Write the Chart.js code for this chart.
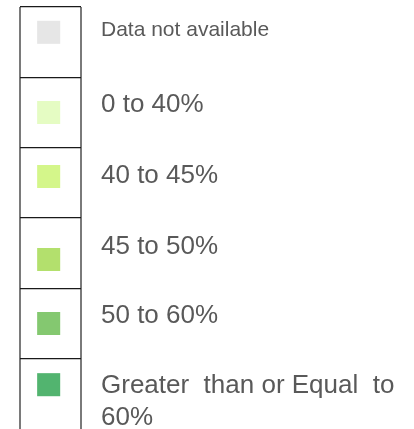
<!DOCTYPE html>
<html>
<head>
<meta charset="utf-8">
<script src="https://cdn.jsdelivr.net/npm/chart.js@4"></script>
<style>
    html, body { margin: 0; padding: 0; background: #fff; }
    #wrap { position: relative; width: 414px; height: 429px; }
</style>
</head>
<body>
<div id="wrap"><canvas id="legendChart"></canvas></div>
<script>
// --- Datos de la leyenda ---
const levels = [
    'Data not available',
    '0 to 40%',
    '40 to 45%',
    '45 to 50%',
    '50 to 60%',
    ['Greater  than or Equal  to', '60%']
];
const swatchColors = ['#e6e6e6', '#e5fcc3', '#d4f68a', '#b3e06d', '#84c870', '#52b46f'];
// posición vertical de cada muestra y texto, en unidades de fila
const swatchRow = [0.36, 1.50, 2.41, 3.59, 4.50, 5.37];
const labelRow = [0.33, 1.39, 2.40, 3.41, 4.39, 5.39];
const rowTicks = [0, 1, 2, 3, 4, 5, 6];

// --- Plugin para dibujar los textos a la derecha de la caja ---
const labelPlugin = {
    id: 'legendLabels',
    afterDraw(chart) {
        const ctx = chart.ctx;
        const y = chart.scales.y;
        const x0 = chart.chartArea.right + 20;
        ctx.save();
        ctx.fillStyle = '#595959';
        ctx.textAlign = 'left';
        ctx.textBaseline = 'middle';
        levels.forEach((label, i) => {
            const size = i === 0 ? 21 : 26;
            ctx.font = size + 'px "Liberation Sans", Arial, sans-serif';
            const lines = Array.isArray(label) ? label : [label];
            const yc = y.getPixelForValue(labelRow[i]);
            lines.forEach((line, j) => ctx.fillText(line, x0, yc + j * 32));
        });
        ctx.restore();
    }
};

new Chart(document.getElementById('legendChart'), {
    type: 'scatter',
    data: {
        datasets: [{
            data: swatchRow.map(r => ({ x: 0.47, y: r })),
            backgroundColor: swatchColors,
            pointStyle: 'rect',
            pointRadius: 16.3,
            pointHoverRadius: 16.3,
            borderWidth: 0
        }]
    },
    options: {
        responsive: true,
        maintainAspectRatio: false,
        animation: false,
        events: [],
        layout: { autoPadding: false, padding: { left: 20, right: 333, top: 7, bottom: 0 } },
        plugins: { legend: { display: false }, tooltip: { enabled: false } },
        scales: {
            x: {
                type: 'linear', min: 0, max: 1,
                ticks: { display: false, stepSize: 1 },
                grid: { color: '#7a7a7a', lineWidth: 2, drawTicks: false },
                border: { display: false },
                afterFit: s => { s.height = 0; }
            },
            y: {
                type: 'linear', reverse: true, min: 0, max: 6,
                afterBuildTicks: s => { s.ticks = rowTicks.map(v => ({ value: v })); },
                ticks: { display: false },
                grid: {
                    color: c => c.tick && c.tick.value === 6 ? 'rgba(0,0,0,0)' : '#1a1a1a',
                    lineWidth: 1.2,
                    drawTicks: false
                },
                border: { display: false },
                afterFit: s => { s.width = 0; }
            }
        }
    },
    plugins: [labelPlugin]
});
</script>
</body>
</html>
